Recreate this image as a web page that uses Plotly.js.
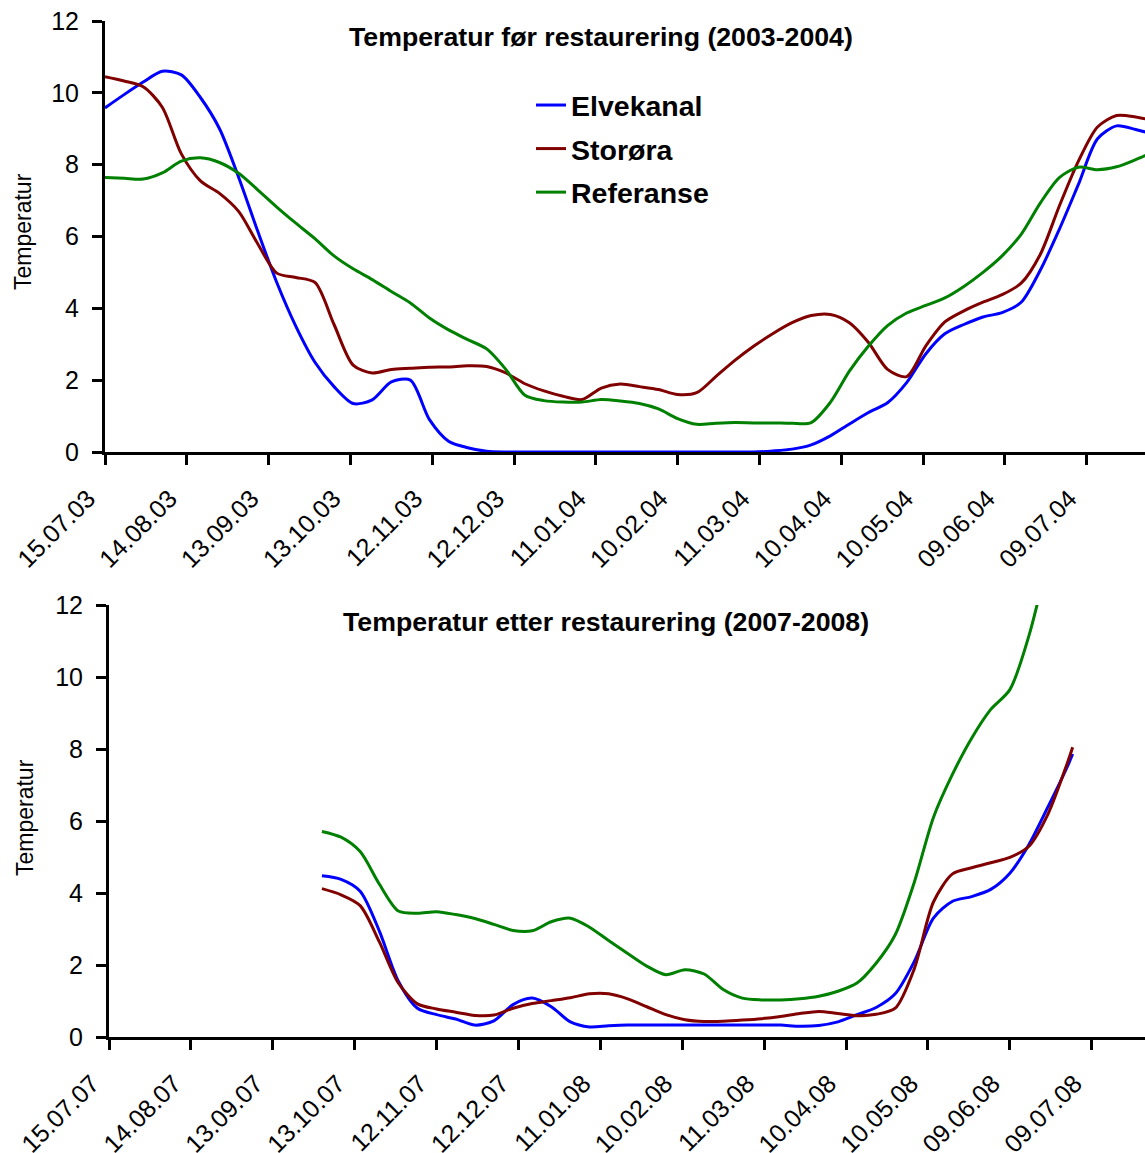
<!DOCTYPE html>
<html>
<head>
<meta charset="utf-8">
<script src="https://cdn.plot.ly/plotly-3.0.1.min.js"></script>
<style>html,body{margin:0;padding:0;background:#fff;}#chart{width:1145px;height:1153px;}</style>
</head>
<body>
<div id="chart"></div>
<script>
// ---------- Data: before restoration (2003-2004) ----------
const topDates = [
 '2003-07-15','2003-07-22','2003-07-29','2003-08-05','2003-08-12','2003-08-19','2003-08-26',
 '2003-09-02','2003-09-09','2003-09-16','2003-09-23','2003-09-30','2003-10-07','2003-10-14',
 '2003-10-21','2003-10-28','2003-11-04','2003-11-11','2003-11-18','2003-11-25','2003-12-02',
 '2003-12-09','2003-12-16','2003-12-23','2003-12-30','2004-01-06','2004-01-13','2004-01-20',
 '2004-01-27','2004-02-03','2004-02-10','2004-02-17','2004-02-24','2004-03-02','2004-03-09',
 '2004-03-16','2004-03-23','2004-03-30','2004-04-06','2004-04-13','2004-04-20','2004-04-27',
 '2004-05-04','2004-05-11','2004-05-18','2004-05-25','2004-06-01','2004-06-08','2004-06-15',
 '2004-06-22','2004-06-29','2004-07-06','2004-07-13','2004-07-20','2004-07-27','2004-07-31'
];
const topElvekanal = [
 9.58, 9.95, 10.3, 10.6, 10.5, 9.87, 9.0,
 7.65, 6.15, 4.72, 3.5, 2.5, 1.82, 1.35,
 1.45, 1.95, 2.0, 0.9, 0.3, 0.12, 0.02,
 0, 0, 0, 0, 0, 0, 0,
 0, 0, 0, 0, 0, 0, 0,
 0.03, 0.08, 0.2, 0.45, 0.78, 1.1, 1.37,
 1.93, 2.73, 3.29, 3.55, 3.76, 3.88, 4.17,
 5.06, 6.2, 7.45, 8.72, 9.08, 8.98, 8.9
];
const topStorora = [
 10.45, 10.33, 10.17, 9.6, 8.3, 7.55, 7.2,
 6.7, 5.8, 4.98, 4.86, 4.72, 3.55, 2.42,
 2.2, 2.3, 2.33, 2.36, 2.37, 2.4, 2.38,
 2.2, 1.9, 1.7, 1.55, 1.46, 1.78, 1.89,
 1.82, 1.74, 1.6, 1.65, 2.1, 2.55, 2.95,
 3.3, 3.6, 3.8, 3.83, 3.6, 3.05, 2.3,
 2.1, 2.95, 3.62, 3.93, 4.17, 4.38, 4.7,
 5.5, 6.85, 8.1, 9.05, 9.37, 9.33, 9.27
];
const topReferanse = [
 7.64, 7.62, 7.6, 7.77, 8.1, 8.19, 8.06,
 7.76, 7.3, 6.82, 6.37, 5.94, 5.46, 5.1,
 4.8, 4.47, 4.15, 3.73, 3.4, 3.13, 2.87,
 2.3, 1.58, 1.43, 1.39, 1.39, 1.46, 1.42,
 1.35, 1.2, 0.93, 0.77, 0.8, 0.82, 0.81,
 0.81, 0.8, 0.82, 1.38, 2.25, 2.95, 3.52,
 3.87, 4.08, 4.29, 4.61, 5.0, 5.46, 6.06,
 6.93, 7.64, 7.93, 7.86, 7.94, 8.14, 8.27
];
const topTickLabels = ['15.07.03','14.08.03','13.09.03','13.10.03','12.11.03','12.12.03',
 '11.01.04','10.02.04','11.03.04','10.04.04','10.05.04','09.06.04','09.07.04'];

// ---------- Data: after restoration (2007-2008) ----------
const bottomDates = [
 '2007-10-01','2007-10-08','2007-10-15','2007-10-22','2007-10-29','2007-11-05','2007-11-12',
 '2007-11-19','2007-11-26','2007-12-03','2007-12-10','2007-12-17','2007-12-24','2007-12-31',
 '2008-01-07','2008-01-14','2008-01-21','2008-01-28','2008-02-04','2008-02-11','2008-02-18',
 '2008-02-25','2008-03-03','2008-03-10','2008-03-17','2008-03-24','2008-03-31','2008-04-07',
 '2008-04-14','2008-04-21','2008-04-28','2008-05-05','2008-05-12','2008-05-19','2008-05-26',
 '2008-06-02','2008-06-09','2008-06-16','2008-06-23','2008-06-30','2008-07-02'
];
const bottomElvekanal = [
 4.48, 4.38, 4.05, 2.95, 1.55, 0.8, 0.62,
 0.5, 0.33, 0.45, 0.9, 1.08, 0.84, 0.42,
 0.28, 0.31, 0.33, 0.33, 0.33, 0.33, 0.33,
 0.33, 0.33, 0.33, 0.33, 0.3, 0.32, 0.42,
 0.62, 0.82, 1.2, 2.1, 3.3, 3.77, 3.9,
 4.1, 4.55, 5.35, 6.4, 7.5, 7.86
];
const bottomStorora = [
 4.12, 3.95, 3.65, 2.65, 1.5, 0.92, 0.78,
 0.69, 0.6, 0.61, 0.8, 0.93, 1.01, 1.09,
 1.2, 1.2, 1.06, 0.84, 0.62, 0.48, 0.43,
 0.44, 0.47, 0.51, 0.57, 0.65, 0.71, 0.65,
 0.59, 0.63, 0.8, 1.9, 3.75, 4.53, 4.7,
 4.84, 4.99, 5.3, 6.2, 7.6, 8.05
];
const bottomReferanse = [
 5.71, 5.55, 5.15, 4.25, 3.5, 3.44, 3.48,
 3.4, 3.29, 3.13, 2.96, 2.95, 3.2, 3.3,
 3.05, 2.68, 2.32, 1.97, 1.73, 1.87, 1.75,
 1.32, 1.08, 1.03, 1.03, 1.06, 1.13, 1.27,
 1.5, 2.05, 2.84, 4.3, 6.1, 7.3, 8.3,
 9.1, 9.65, 11.15, 13.3, null, null
];
const bottomTickLabels = ['15.07.07','14.08.07','13.09.07','13.10.07','12.11.07','12.12.07',
 '11.01.08','10.02.08','11.03.08','10.04.08','10.05.08','09.06.08','09.07.08'];

const seriesNames = ['Elvekanal','Storøra','Referanse'];
const seriesColors = ['#0000FF','#800000','#008000'];

// ---------- Build ----------
function labelToDate(s){ const p = s.split('.'); return '20' + p[2] + '-' + p[1] + '-' + p[0]; }

const FONT = 'Liberation Sans, Arial, sans-serif';
const W = 1145, H = 1153;

const topSeries = [topElvekanal, topStorora, topReferanse];
const bottomSeries = [bottomElvekanal, bottomStorora, bottomReferanse];

const traces = [];
topSeries.forEach((ys, i) => traces.push({
  x: topDates, y: ys, type: 'scatter', mode: 'lines', name: seriesNames[i],
  legendgroup: 'g' + i, xaxis: 'x', yaxis: 'y',
  line: {color: seriesColors[i], width: 3, shape: 'spline', smoothing: 0.8},
  hoverinfo: 'skip'
}));
bottomSeries.forEach((ys, i) => traces.push({
  x: bottomDates, y: ys, type: 'scatter', mode: 'lines', name: seriesNames[i],
  legendgroup: 'g' + i, showlegend: false, xaxis: 'x2', yaxis: 'y2',
  line: {color: seriesColors[i], width: 3, shape: 'spline', smoothing: 0.8},
  connectgaps: false, hoverinfo: 'skip'
}));

function xAxis(labels, range, domainLeft, anchor){
  return {
    type: 'date', range: range, domain: [domainLeft / W, 1], anchor: anchor,
    tickmode: 'array', tickvals: labels.map(labelToDate), ticktext: labels,
    tickangle: -45, ticks: 'outside', ticklen: 10, tickwidth: 3, tickcolor: '#000',
    showline: true, linecolor: '#000', linewidth: 3, showgrid: false, zeroline: false,
    tickfont: {family: FONT, size: 25, color: '#000'},
    ticklabelstandoff: 9, ticklabelshift: -17,
    automargin: false
  };
}
function yAxis(top, bottom, anchor){
  return {
    range: [0, 12], domain: [1 - bottom / H, 1 - top / H], anchor: anchor,
    tickmode: 'array', tickvals: [0, 2, 4, 6, 8, 10, 12],
    ticks: 'outside', ticklen: 10, tickwidth: 3, tickcolor: '#000',
    showline: true, linecolor: '#000', linewidth: 3, showgrid: false, zeroline: false,
    tickfont: {family: FONT, size: 25, color: '#000'}, ticklabelstandoff: 8,
    automargin: false
  };
}

const layout = {
  width: W, height: H, paper_bgcolor: '#fff', plot_bgcolor: 'rgba(0,0,0,0)',
  margin: {l: 0, r: 0, t: 0, b: 0},
  showlegend: true,
  legend: {
    x: 531 / W, y: 1 - 80 / H, xanchor: 'left', yanchor: 'top',
    font: {family: FONT, size: 28.5, color: '#000', weight: 'bold'},
    bgcolor: 'rgba(0,0,0,0)', borderwidth: 0, tracegroupgap: 3.5
  },
  xaxis: xAxis(topTickLabels, ['2003-07-15', '2004-07-30 10:00'], 105, 'y'),
  yaxis: yAxis(21, 452, 'x'),
  xaxis2: xAxis(bottomTickLabels, ['2007-07-15', '2008-07-28 12:00'], 109, 'y2'),
  yaxis2: yAxis(605, 1037, 'x2'),
  annotations: [
    {text: '<b>Temperatur før restaurering (2003-2004)</b>', xref: 'paper', yref: 'paper',
     x: 601 / W, y: 1 - 37 / H, xanchor: 'center', yanchor: 'middle', showarrow: false,
     font: {family: FONT, size: 26.7, color: '#000'}},
    {text: '<b>Temperatur etter restaurering (2007-2008)</b>', xref: 'paper', yref: 'paper',
     x: 606 / W, y: 1 - 622 / H, xanchor: 'center', yanchor: 'middle', showarrow: false,
     font: {family: FONT, size: 26.7, color: '#000'}},
    {text: 'Temperatur', xref: 'paper', yref: 'paper', textangle: -90,
     x: 23 / W, y: 1 - 232 / H, xanchor: 'center', yanchor: 'middle', showarrow: false,
     font: {family: FONT, size: 23, color: '#000'}},
    {text: 'Temperatur', xref: 'paper', yref: 'paper', textangle: -90,
     x: 25 / W, y: 1 - 818 / H, xanchor: 'center', yanchor: 'middle', showarrow: false,
     font: {family: FONT, size: 23, color: '#000'}}
  ]
};

Plotly.newPlot('chart', traces, layout, {staticPlot: true, displayModeBar: false});
</script>
</body>
</html>
